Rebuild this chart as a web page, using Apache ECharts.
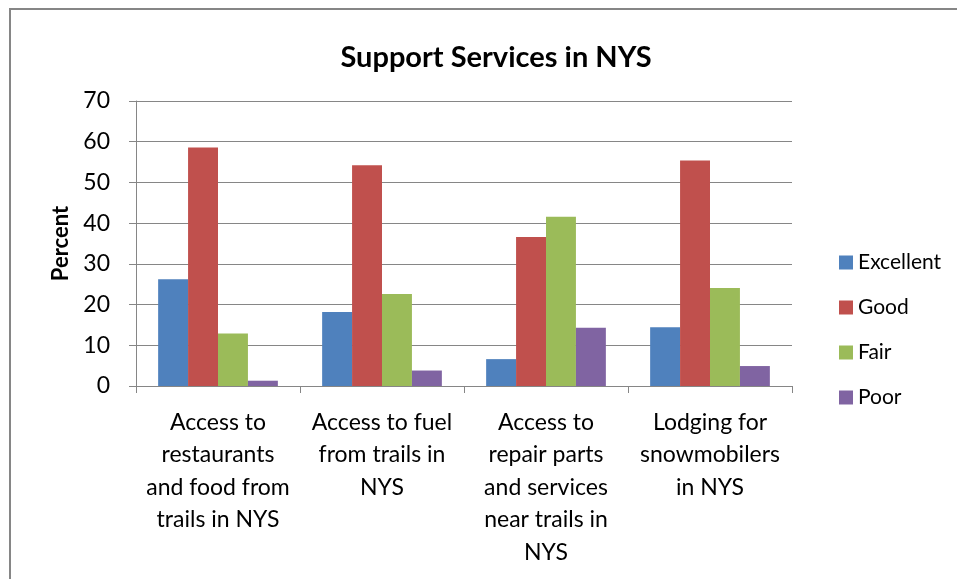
<!DOCTYPE html>
<html>
<head>
<meta charset="utf-8">
<script src="https://cdn.jsdelivr.net/npm/echarts@6/dist/echarts.min.js"></script>
<style>
  html, body { margin: 0; padding: 0; background: #fff; }
  #main { width: 957px; height: 579px; }
</style>
</head>
<body>
<div id="main"></div>
<script>
// categories and values
var categories = [
  'Access to\nrestaurants\nand food from\ntrails in NYS',
  'Access to fuel\nfrom trails in\nNYS',
  'Access to\nrepair parts\nand services\nnear trails in\nNYS',
  'Lodging for\nsnowmobilers\nin NYS'
];
var excellent = [26.2, 18.2, 6.6, 14.4];
var good = [58.6, 54.2, 36.6, 55.4];
var fair = [12.9, 22.6, 41.6, 24.1];
var poor = [1.3, 3.8, 14.3, 4.9];
var yTicks = [0, 10, 20, 30, 40, 50, 60, 70];

var font = 'Lato';
var gray = '#868686';

var myChart = echarts.init(document.getElementById('main'));

function bar(name, data, color) {
  return {
    name: name,
    type: 'bar',
    data: data,
    barGap: 0,
    barCategoryGap: '27%',
    itemStyle: { color: color }
  };
}

myChart.setOption({
  animation: false,
  textStyle: { fontFamily: font },
  graphic: [{
    type: 'rect',
    shape: { x: 10, y: 9, width: 1000, height: 1000 },
    style: { fill: 'none', stroke: gray, lineWidth: 2 }
  }],
  title: {
    text: 'Support Services in NYS',
    left: 491,
    top: 38,
    textAlign: 'center',
    textStyle: { fontFamily: font, fontWeight: 'bold', fontSize: 29, color: '#000' }
  },
  legend: {
    orient: 'vertical',
    left: 834,
    top: 247,
    itemWidth: 14,
    itemHeight: 14,
    itemGap: 24,
    icon: 'rect',
    textStyle: { fontFamily: font, fontSize: 21, color: '#000' },
    data: ['Excellent', 'Good', 'Fair', 'Poor']
  },
  grid: { left: 136, right: 165, top: 101, bottom: 193 },
  xAxis: {
    type: 'category',
    data: categories,
    axisLine: { lineStyle: { color: gray, width: 1 } },
    axisTick: { show: true, length: 7, lineStyle: { color: gray } },
    axisLabel: {
      interval: 0,
      margin: 20,
      color: '#000',
      fontFamily: font,
      fontSize: 23,
      lineHeight: 32.5
    }
  },
  yAxis: {
    type: 'value',
    min: yTicks[0],
    max: yTicks[yTicks.length - 1],
    interval: 10,
    name: 'Percent',
    nameLocation: 'middle',
    nameGap: 64,
    nameTextStyle: { fontFamily: font, fontWeight: 'bold', fontSize: 22, color: '#000' },
    axisLine: { show: true, lineStyle: { color: gray } },
    axisTick: { show: true, length: 7, lineStyle: { color: gray } },
    axisLabel: { margin: 26, color: '#000', fontFamily: font, fontSize: 23 },
    splitLine: { show: true, lineStyle: { color: gray, width: 1 } }
  },
  series: [
    bar('Excellent', excellent, '#4F81BD'),
    bar('Good', good, '#C0504D'),
    bar('Fair', fair, '#9BBB59'),
    bar('Poor', poor, '#8064A2')
  ]
});
</script>
</body>
</html>
